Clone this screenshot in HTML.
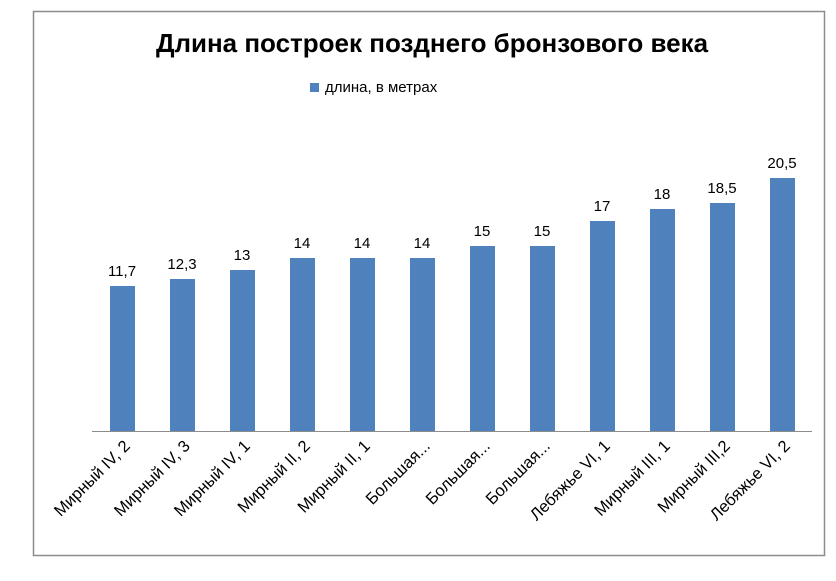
<!DOCTYPE html>
<html><head><meta charset="utf-8"><style>
body{margin:0;background:#fff}
svg{display:block}
text{font-family:"Liberation Sans","DejaVu Sans",sans-serif}
</style></head><body>
<svg width="836" height="581" viewBox="0 0 836 581">
<rect x="33.5" y="11.5" width="791" height="544" fill="#fff" stroke="#8c8c8c" stroke-width="1.5"/>
<text x="432" y="52" text-anchor="middle" font-size="26" font-weight="bold" fill="#000">Длина построек позднего бронзового века</text>
<rect x="310" y="83" width="9" height="9" fill="#4f81bd"/>
<text x="325" y="92" font-size="15" fill="#000">длина, в метрах</text>
<line x1="92" y1="431.5" x2="812" y2="431.5" stroke="#8c8c8c" stroke-width="1"/>
<g fill="#4f81bd">
<rect x="110" y="286" width="25" height="145"/>
<rect x="170" y="279" width="25" height="152"/>
<rect x="230" y="270" width="25" height="161"/>
<rect x="290" y="258" width="25" height="173"/>
<rect x="350" y="258" width="25" height="173"/>
<rect x="410" y="258" width="25" height="173"/>
<rect x="470" y="246" width="25" height="185"/>
<rect x="530" y="246" width="25" height="185"/>
<rect x="590" y="221" width="25" height="210"/>
<rect x="650" y="209" width="25" height="222"/>
<rect x="710" y="203" width="25" height="228"/>
<rect x="770" y="178" width="25" height="253"/>
</g>
<g font-size="15" text-anchor="middle" fill="#000">
<text x="122" y="276">11,7</text>
<text x="182" y="269">12,3</text>
<text x="242" y="260">13</text>
<text x="302" y="248">14</text>
<text x="362" y="248">14</text>
<text x="422" y="248">14</text>
<text x="482" y="236">15</text>
<text x="542" y="236">15</text>
<text x="602" y="211">17</text>
<text x="662" y="199">18</text>
<text x="722" y="193">18,5</text>
<text x="782" y="168">20,5</text>
</g>
<g font-size="16.5" text-anchor="end" fill="#000">
<text transform="translate(131,447) rotate(-45)">Мирный IV, 2</text>
<text transform="translate(191,447) rotate(-45)">Мирный IV, 3</text>
<text transform="translate(251,447) rotate(-45)">Мирный IV, 1</text>
<text transform="translate(311,447) rotate(-45)">Мирный II, 2</text>
<text transform="translate(371,447) rotate(-45)">Мирный II, 1</text>
<text transform="translate(431,447) rotate(-45)">Большая...</text>
<text transform="translate(491,447) rotate(-45)">Большая...</text>
<text transform="translate(551,447) rotate(-45)">Большая...</text>
<text transform="translate(611,447) rotate(-45)">Лебяжье VI, 1</text>
<text transform="translate(671,447) rotate(-45)">Мирный III, 1</text>
<text transform="translate(731,447) rotate(-45)">Мирный III,2</text>
<text transform="translate(791,447) rotate(-45)">Лебяжье VI, 2</text>
</g>
</svg>
</body></html>
